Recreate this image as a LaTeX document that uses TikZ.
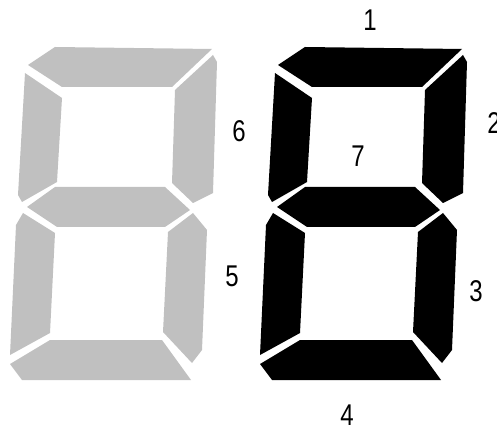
\documentclass[tikz,border=0pt]{standalone}
\usepackage{fontspec}
\newfontfamily\labelfont[FakeStretch=0.8]{Liberation Sans}
\definecolor{segoff}{HTML}{C0C0C0}
\begin{document}
\begin{tikzpicture}[x=1pt,y=-1pt,line join=round,
		font=\labelfont\fontsize{30}{30}\selectfont,
		lbl/.style={inner sep=0pt}]
	\useasboundingbox (0,0) rectangle (497,427);
	% the two digits: off (gray) and on (black)
	\foreach \dx/\col in {0/segoff,250/black}{
		\begin{scope}[xshift=\dx]
			\fill[\col] (28,65)--(55,47)--(212,49)--(172,87)--(62,87)--cycle;     % 1
			\fill[\col] (213,55)--(217,62)--(213,193)--(193,203)--(172,183)--(175,90)--cycle; % 2
			\fill[\col] (193,213)--(207,230)--(202,350)--(192,363)--(163,332)--(168,232)--cycle; % 3
			\fill[\col] (10,364)--(50,340)--(162,340)--(191,380)--(22,380)--cycle;   % 4
			\fill[\col] (23,213)--(55,233)--(50,333)--(10,355)--(16,225)--cycle;    % 5
			\fill[\col] (25,73)--(62,98)--(57,182)--(22,202)--(18,195)--cycle;      % 6
			\fill[\col] (27,207)--(55,187)--(165,187)--(190,210)--(165,227)--(57,227)--cycle; % 7
		\end{scope}
	}
	% segment numbers
	\node[lbl] (n1) at (370,20) {1};
	\node[lbl] (n2) at (494,123) {2};
	\node[lbl] (n3) at (476,291) {3};
	\node[lbl] (n4) at (347,415) {4};
	\node[lbl] (n5) at (232,276) {5};
	\node[lbl] (n6) at (239,131) {6};
	\node[lbl] (n7) at (358,156) {7};
\end{tikzpicture}
\end{document}
